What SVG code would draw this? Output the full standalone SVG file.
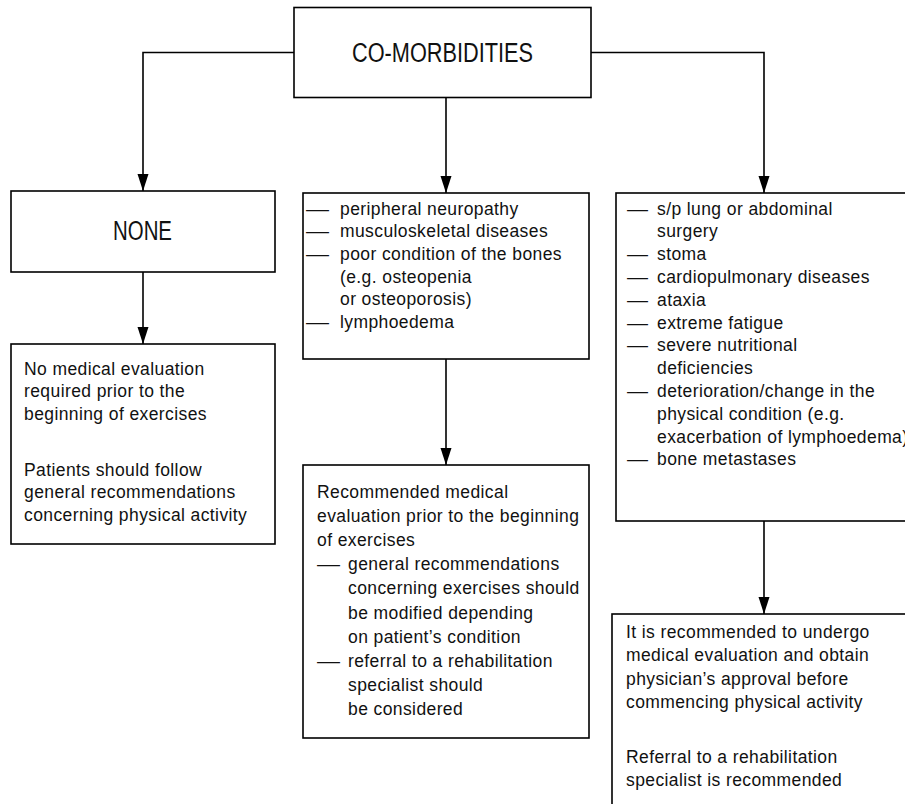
<svg xmlns="http://www.w3.org/2000/svg" width="905" height="804" viewBox="0 0 905 804">
<defs>
<marker id="arr" markerUnits="userSpaceOnUse" markerWidth="18" markerHeight="12" refX="17" refY="5.5" orient="auto">
<path d="M0,0 L17,5.5 L0,11 Z" fill="#000"/>
</marker>
<style>
.box{fill:#fff;stroke:#000;stroke-width:1.6}
.con{fill:none;stroke:#000;stroke-width:1.6;marker-end:url(#arr)}
text{font-family:"Liberation Sans",Arial,sans-serif;fill:#111}
.t{font-size:17.5px;letter-spacing:0.4px}
.d{font-size:17.5px}
.h{font-size:27px}
</style>
</defs>
<rect width="905" height="804" fill="#fff"/>
<g id="connectors">
<polyline class="con" points="294,52.5 143,52.5 143,191"/>
<polyline class="con" points="446,98 446,193"/>
<polyline class="con" points="591,52.5 764,52.5 764,193"/>
<polyline class="con" points="143,272 143,344"/>
<polyline class="con" points="446,359 446,465"/>
<polyline class="con" points="764,521 764,614"/>
</g>
<g id="comorbidities">
<rect class="box" x="294" y="7.5" width="297" height="90"/>
<text class="h" x="352" y="62" textLength="181" lengthAdjust="spacingAndGlyphs">CO-MORBIDITIES</text>
</g>
<g id="none">
<rect class="box" x="11" y="191" width="264" height="81"/>
<text class="h" x="113" y="240" textLength="59" lengthAdjust="spacingAndGlyphs">NONE</text>
</g>
<g id="no-evaluation">
<rect class="box" x="11" y="344" width="264" height="200"/>
<text class="t" x="24" y="374.5">No medical evaluation</text>
<text class="t" x="24" y="397">required prior to the</text>
<text class="t" x="24" y="419.5">beginning of exercises</text>
<text class="t" x="24" y="475.5">Patients should follow</text>
<text class="t" x="24" y="498">general recommendations</text>
<text class="t" x="24" y="520.5">concerning physical activity</text>
</g>
<g id="moderate">
<rect class="box" x="303" y="193" width="286" height="166"/>
<text class="d" x="306" y="214.5" textLength="23" lengthAdjust="spacingAndGlyphs">—</text>
<text class="t" x="340" y="214.5">peripheral neuropathy</text>
<text class="d" x="306" y="237.2" textLength="23" lengthAdjust="spacingAndGlyphs">—</text>
<text class="t" x="340" y="237.2">musculoskeletal diseases</text>
<text class="d" x="306" y="259.9" textLength="23" lengthAdjust="spacingAndGlyphs">—</text>
<text class="t" x="340" y="259.9">poor condition of the bones</text>
<text class="t" x="340" y="282.6">(e.g. osteopenia</text>
<text class="t" x="340" y="305.3">or osteoporosis)</text>
<text class="d" x="306" y="328" textLength="23" lengthAdjust="spacingAndGlyphs">—</text>
<text class="t" x="340" y="328">lymphoedema</text>
</g>
<g id="recommended">
<rect class="box" x="303" y="465" width="286" height="273"/>
<text class="t" x="317" y="498">Recommended medical</text>
<text class="t" x="317" y="522.1">evaluation prior to the beginning</text>
<text class="t" x="317" y="546.2">of exercises</text>
<text class="d" x="317" y="570.3" textLength="23" lengthAdjust="spacingAndGlyphs">—</text>
<text class="t" x="348" y="570.3">general recommendations</text>
<text class="t" x="348" y="594.4">concerning exercises should</text>
<text class="t" x="348" y="618.5">be modified depending</text>
<text class="t" x="348" y="642.6">on patient’s condition</text>
<text class="d" x="317" y="666.7" textLength="23" lengthAdjust="spacingAndGlyphs">—</text>
<text class="t" x="348" y="666.7">referral to a rehabilitation</text>
<text class="t" x="348" y="690.8">specialist should</text>
<text class="t" x="348" y="714.9">be considered</text>
</g>
<g id="severe">
<rect class="box" x="616" y="193" width="300" height="328"/>
<text class="d" x="627" y="214.5" textLength="21" lengthAdjust="spacingAndGlyphs">—</text>
<text class="t" x="657" y="214.5">s/p lung or abdominal</text>
<text class="t" x="657" y="237.3">surgery</text>
<text class="d" x="627" y="260.1" textLength="21" lengthAdjust="spacingAndGlyphs">—</text>
<text class="t" x="657" y="260.1">stoma</text>
<text class="d" x="627" y="282.9" textLength="21" lengthAdjust="spacingAndGlyphs">—</text>
<text class="t" x="657" y="282.9">cardiopulmonary diseases</text>
<text class="d" x="627" y="305.7" textLength="21" lengthAdjust="spacingAndGlyphs">—</text>
<text class="t" x="657" y="305.7">ataxia</text>
<text class="d" x="627" y="328.5" textLength="21" lengthAdjust="spacingAndGlyphs">—</text>
<text class="t" x="657" y="328.5">extreme fatigue</text>
<text class="d" x="627" y="351.3" textLength="21" lengthAdjust="spacingAndGlyphs">—</text>
<text class="t" x="657" y="351.3">severe nutritional</text>
<text class="t" x="657" y="374.1">deficiencies</text>
<text class="d" x="627" y="396.9" textLength="21" lengthAdjust="spacingAndGlyphs">—</text>
<text class="t" x="657" y="396.9">deterioration/change in the</text>
<text class="t" x="657" y="419.7">physical condition (e.g.</text>
<text class="t" x="657" y="442.5">exacerbation of lymphoedema)</text>
<text class="d" x="627" y="465.3" textLength="21" lengthAdjust="spacingAndGlyphs">—</text>
<text class="t" x="657" y="465.3">bone metastases</text>
</g>
<g id="approval">
<rect class="box" x="612" y="614" width="300" height="200"/>
<text class="t" x="626" y="638">It is recommended to undergo</text>
<text class="t" x="626" y="661.3">medical evaluation and obtain</text>
<text class="t" x="626" y="684.6">physician’s approval before</text>
<text class="t" x="626" y="707.9">commencing physical activity</text>
<text class="t" x="626" y="763">Referral to a rehabilitation</text>
<text class="t" x="626" y="786.3">specialist is recommended</text>
</g>
</svg>
